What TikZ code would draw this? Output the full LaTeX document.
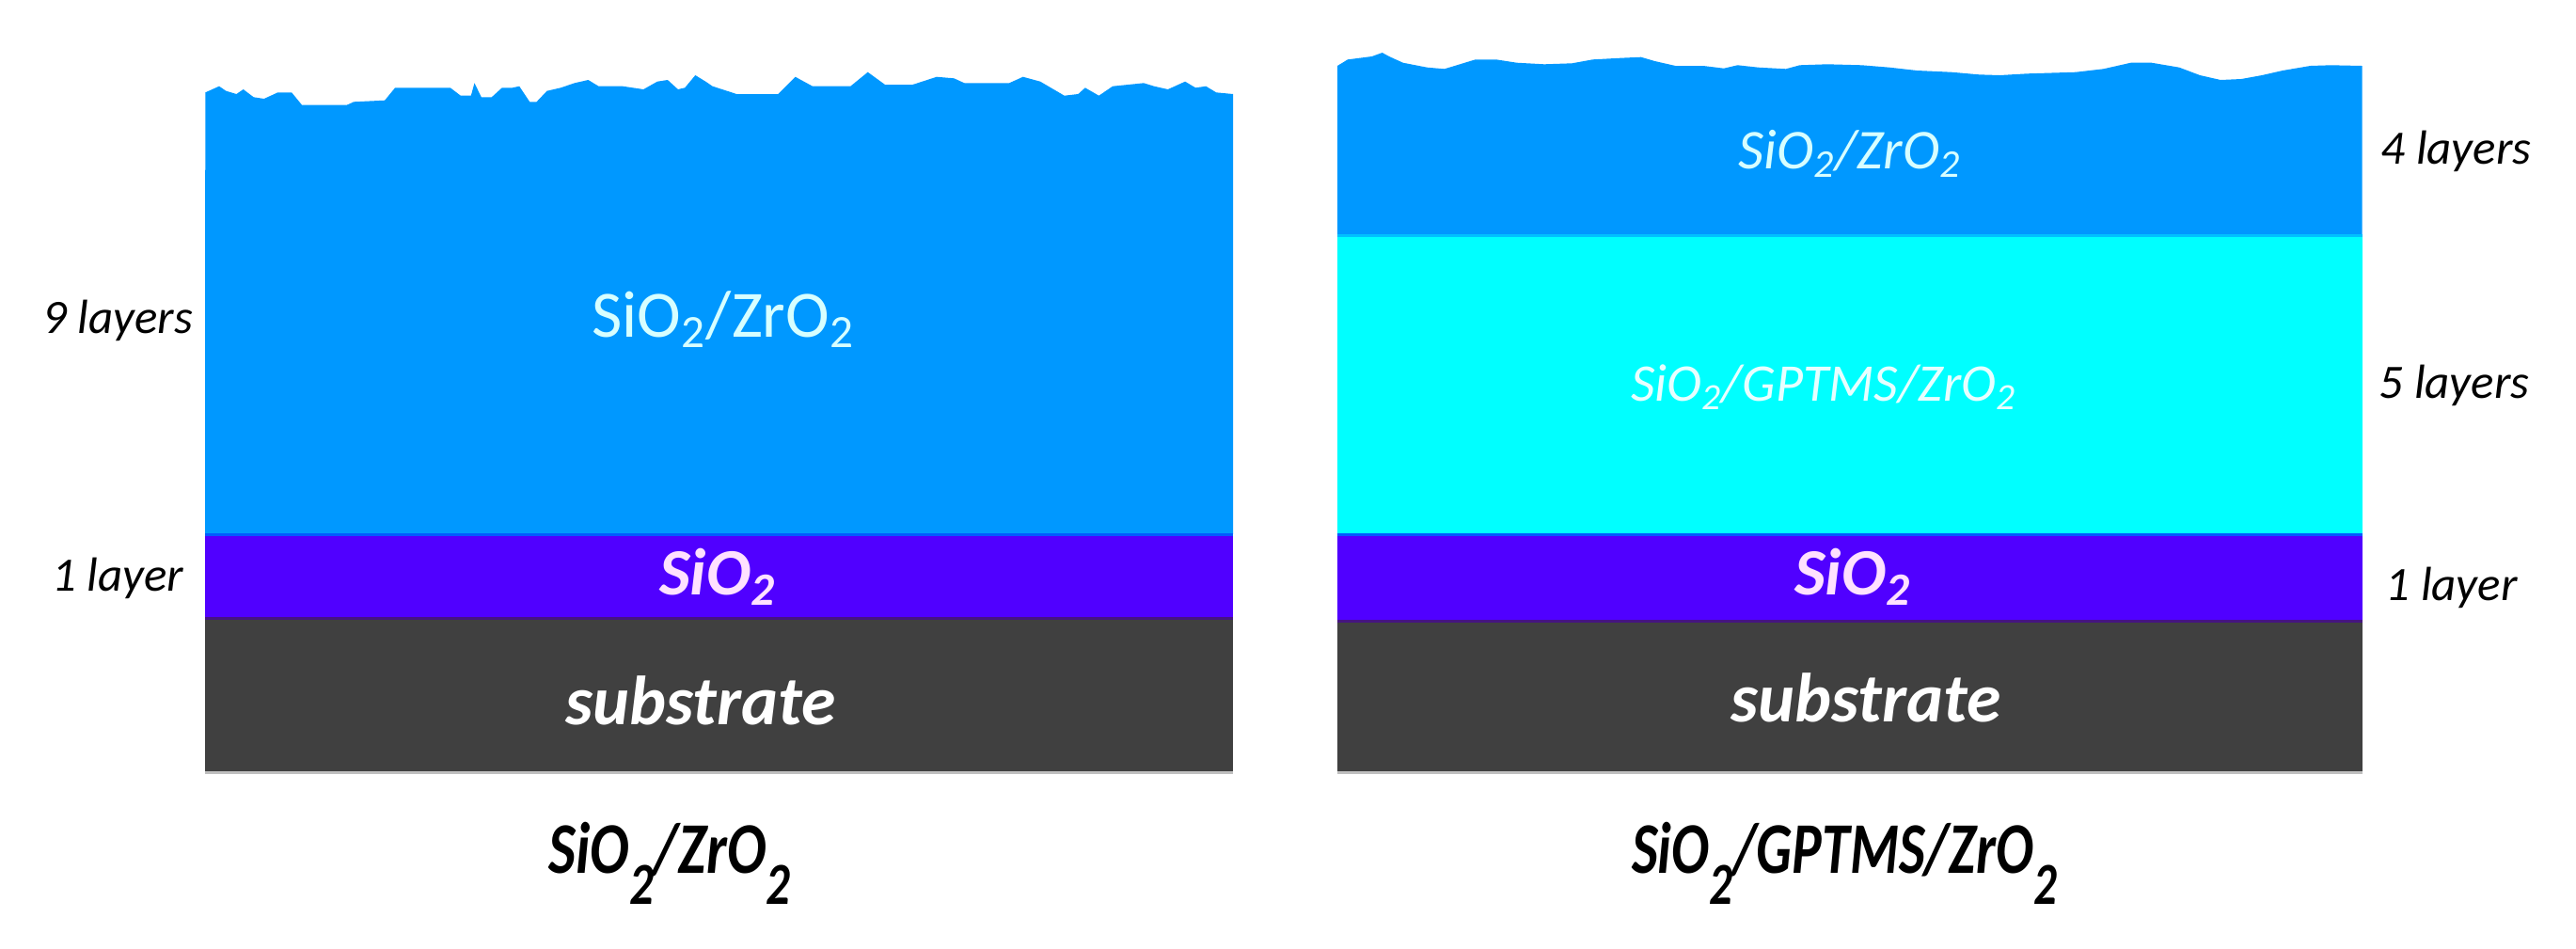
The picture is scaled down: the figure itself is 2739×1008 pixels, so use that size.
\documentclass[tikz,border=0pt]{standalone}
\usepackage{fontspec}
\setmainfont{Carlito}
\definecolor{topblue}{RGB}{0,152,255}
\definecolor{midcyan}{RGB}{0,255,255}
\definecolor{purp}{RGB}{80,0,255}
\definecolor{subst}{RGB}{64,64,64}
\definecolor{palecyan}{RGB}{215,255,255}
\definecolor{palepink}{RGB}{255,225,255}
\definecolor{edgeblue}{RGB}{0,90,255}
\definecolor{edgepurp}{RGB}{70,20,130}
\newcommand{\titlesub}{\raisebox{-0.42em}{\scalebox{0.82}{2}}}
\newcommand{\narrowtext}[1]{\scalebox{0.8}[1]{#1}}
\newcommand{\narrowertext}[1]{\scalebox{0.77}[1]{#1}}
\tikzset{
  sidelabel/.style={inner sep=0pt, text=black, font=\fontsize{14.5}{17}\selectfont\itshape},
  layerlabel/.style={inner sep=0pt, text=palecyan, font=\fontsize{20}{24}\selectfont},
  layerlabelit/.style={inner sep=0pt, text=palecyan, font=\fontsize{17}{21}\selectfont\itshape},
  gptmslabel/.style={inner sep=0pt, text=palecyan!60!white, font=\fontsize{16}{20}\selectfont\itshape},
  sio2label/.style={inner sep=0pt, text=palepink, font=\fontsize{20}{24}\selectfont\bfseries\itshape},
  sublabel/.style={inner sep=0pt, text=white, font=\fontsize{21}{24}\selectfont\bfseries\itshape},
  titlelabel/.style={inner sep=0pt, text=black, font=\fontsize{22}{26}\selectfont\bfseries\itshape},
  sepline/.style={line width=0.03cm},
}
\begin{document}
\begin{tikzpicture}[x=0.01cm,y=-0.01cm]
\useasboundingbox (0,0) rectangle (2739,1008);
\fill[white] (0,0) rectangle (2739,1008);

% ---------- left stack ----------
\fill[topblue] (218,568) -- (218.3,98.3) -- (233,91.7) -- (240.4,96.7) -- (251.4,100) -- (258.7,95) -- (269.7,103.3) -- (280.7,105) -- (295.4,98.3) -- (310.1,98.3) -- (321.1,111.7) -- (368.7,111.7) -- (376.1,108.3) -- (409.1,106.7) -- (420.1,93.3) -- (478.8,93.3) -- (489.8,101.7) -- (500.8,101.7) -- (504.5,88.3) -- (511.8,103.3) -- (522.8,103.3) -- (533.8,93.3) -- (544.8,93.3) -- (552.2,91.7) -- (563.2,108.3) -- (570.5,108.3) -- (581.5,96.7) -- (596.2,93.3) -- (610.9,88.3) -- (625.5,85) -- (636.5,91.7) -- (662.2,91.7) -- (684.2,95) -- (698.9,86.7) -- (709.9,85) -- (720.9,95) -- (728.2,93.3) -- (739.3,80) -- (750.3,86.7) -- (757.6,91.7) -- (783.3,100) -- (827.3,100) -- (845.6,81.7) -- (864,91.7) -- (904.3,91.7) -- (922.7,76.7) -- (941,90) -- (970.4,90) -- (996,81.7) -- (1014.4,83.3) -- (1025.4,88.3) -- (1073.1,88.3) -- (1087.7,81.7) -- (1106.1,86.7) -- (1131.7,101.7) -- (1146.4,100) -- (1153.8,93.3) -- (1168.4,101.7) -- (1183.1,91.7) -- (1216.1,88.3) -- (1227.1,91.7) -- (1241.8,95) -- (1260.1,86.7) -- (1271.2,93.3) -- (1282.2,91.7) -- (1293.2,98.3) -- (1311,100) -- (1311,568) -- cycle;
\fill[purp] (218,568) rectangle (1311,657);
\fill[subst] (218,657) rectangle (1311,820);
\draw[sepline, edgeblue] (218,568) -- (1311,568);
\draw[sepline, edgepurp] (218,657) -- (1311,657);
\draw[sepline, black!25] (218,821) -- (1311,821);

% ---------- right stack ----------
\fill[topblue] (1422,250) -- (1422,70) -- (1433,63.3) -- (1458.7,60) -- (1469.7,56) -- (1477,60) -- (1491.7,66.7) -- (1517.4,71.7) -- (1535.7,73.3) -- (1546.7,70) -- (1568.7,63.3) -- (1590.8,63.3) -- (1612.8,66.7) -- (1642.1,68.3) -- (1671.5,67.3) -- (1693.5,63.3) -- (1722.8,61.7) -- (1744.8,60.7) -- (1759.5,65) -- (1781.5,70) -- (1810.9,70) -- (1832.9,72.7) -- (1847.5,69.3) -- (1869.6,71.7) -- (1898.9,73.3) -- (1913.6,69.3) -- (1942.9,68.3) -- (1979.6,69.3) -- (2009,71.7) -- (2038.3,75) -- (2075,76.7) -- (2104.3,79.3) -- (2126.3,80) -- (2155.7,78.3) -- (2207,76.7) -- (2236.4,73.3) -- (2265.7,66.7) -- (2287.7,66.7) -- (2317.1,71.7) -- (2339.1,80) -- (2361.1,85) -- (2383.1,84) -- (2405.1,80) -- (2427.1,75) -- (2456.5,70) -- (2478.5,69.3) -- (2511.5,70) -- (2511.5,250) -- cycle;
\fill[midcyan] (1422,250) rectangle (2511.5,568);
\fill[purp] (1422,568) rectangle (2511.5,660);
\fill[subst] (1422,660) rectangle (2511.5,820);
\draw[sepline, topblue!60!midcyan] (1422,250) -- (2511.5,250);
\draw[sepline, edgeblue] (1422,568) -- (2511.5,568);
\draw[sepline, edgepurp] (1422,660) -- (2511.5,660);
\draw[sepline, black!25] (1422,821) -- (2511.5,821);

% ---------- labels left ----------
\node[layerlabel] (lzr) at (769,340) {SiO\textsubscript{2}/ZrO\textsubscript{2}};
\node[sio2label] (lsi) at (763,613) {SiO\textsubscript{2}};
\node[sublabel] (lsub) at (745,745) {substrate};
\node[sidelabel, anchor=east] (l9) at (206,341) {9 layers};
\node[sidelabel, anchor=east] (l1) at (196,615) {1 layer};
\node[titlelabel] (ltitle) at (712,918) {\narrowtext{SiO\titlesub/ZrO\titlesub}};

% ---------- labels right ----------
\node[layerlabelit] (rzr) at (1967,163) {SiO\textsubscript{2}/ZrO\textsubscript{2}};
\node[gptmslabel] (rg) at (1939,412) {SiO\textsubscript{2}/GPTMS/ZrO\textsubscript{2}};
\node[sio2label] (rsi) at (1970,613) {SiO\textsubscript{2}};
\node[sublabel] (rsub) at (1984,742) {substrate};
\node[sidelabel, anchor=west] (r4) at (2531,161) {4 layers};
\node[sidelabel, anchor=west] (r5) at (2529,410) {5 layers};
\node[sidelabel, anchor=west] (r1) at (2536,625) {1 layer};
\node[titlelabel] (rtitle) at (1961,918) {\narrowertext{SiO\titlesub/GPTMS/ZrO\titlesub}};
\end{tikzpicture}
\end{document}
